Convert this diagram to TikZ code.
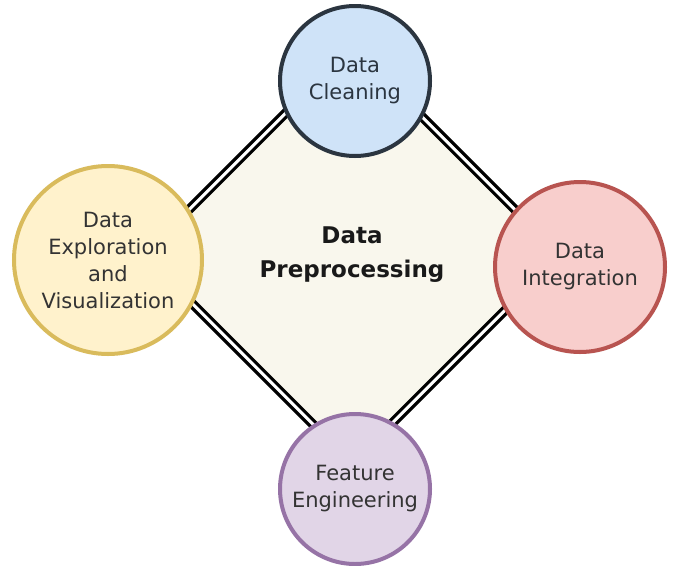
\documentclass[tikz,border=0pt]{standalone}
\usepackage{fontspec}
\setmainfont{DejaVu Sans}
\usepackage{xcolor}
\usetikzlibrary{shapes.geometric,positioning}

\definecolor{hubfill}{HTML}{F9F7ED}
\definecolor{cleanfill}{HTML}{CFE3F8}
\definecolor{cleandraw}{HTML}{2B3540}
\definecolor{explfill}{HTML}{FFF2CC}
\definecolor{expldraw}{HTML}{D9BB5C}
\definecolor{integfill}{HTML}{F8CECC}
\definecolor{integdraw}{HTML}{B85450}
\definecolor{featfill}{HTML}{E1D5E7}
\definecolor{featdraw}{HTML}{9673A6}

\begin{document}
\begin{tikzpicture}[
    x=1pt,y=-1pt,
    hub/.style={diamond,aspect=1,minimum width=418pt,minimum height=418pt,
                inner sep=0pt,fill=hubfill,draw=black,line width=3.3pt,
                double=white,double distance=3pt,align=center,
                font=\fontsize{23}{34}\selectfont\bfseries,text=black!90},
    stage/.style={circle,line width=4pt,inner sep=0pt,align=center,
                  font=\fontsize{21}{27}\selectfont,text=black!80}
]
\useasboundingbox (0,0) rectangle (685,565);
\fill[white] (0,0) rectangle (685,565);

\node[hub] (prep) at (352,255) {Data\\Preprocessing};

\node[stage,minimum size=150pt,fill=cleanfill,draw=cleandraw,text=cleandraw]
  (clean) at (355,81) {Data\\Cleaning};
\node[stage,minimum size=188pt,fill=explfill,draw=expldraw]
  (explore) at (108,260) {Data\\Exploration\\and\\Visualization};
\node[stage,minimum size=170pt,fill=integfill,draw=integdraw]
  (integ) at (580,267) {Data\\Integration};
\node[stage,minimum size=150pt,fill=featfill,draw=featdraw]
  (feature) at (355,489) {Feature\\Engineering};
\end{tikzpicture}
\end{document}
